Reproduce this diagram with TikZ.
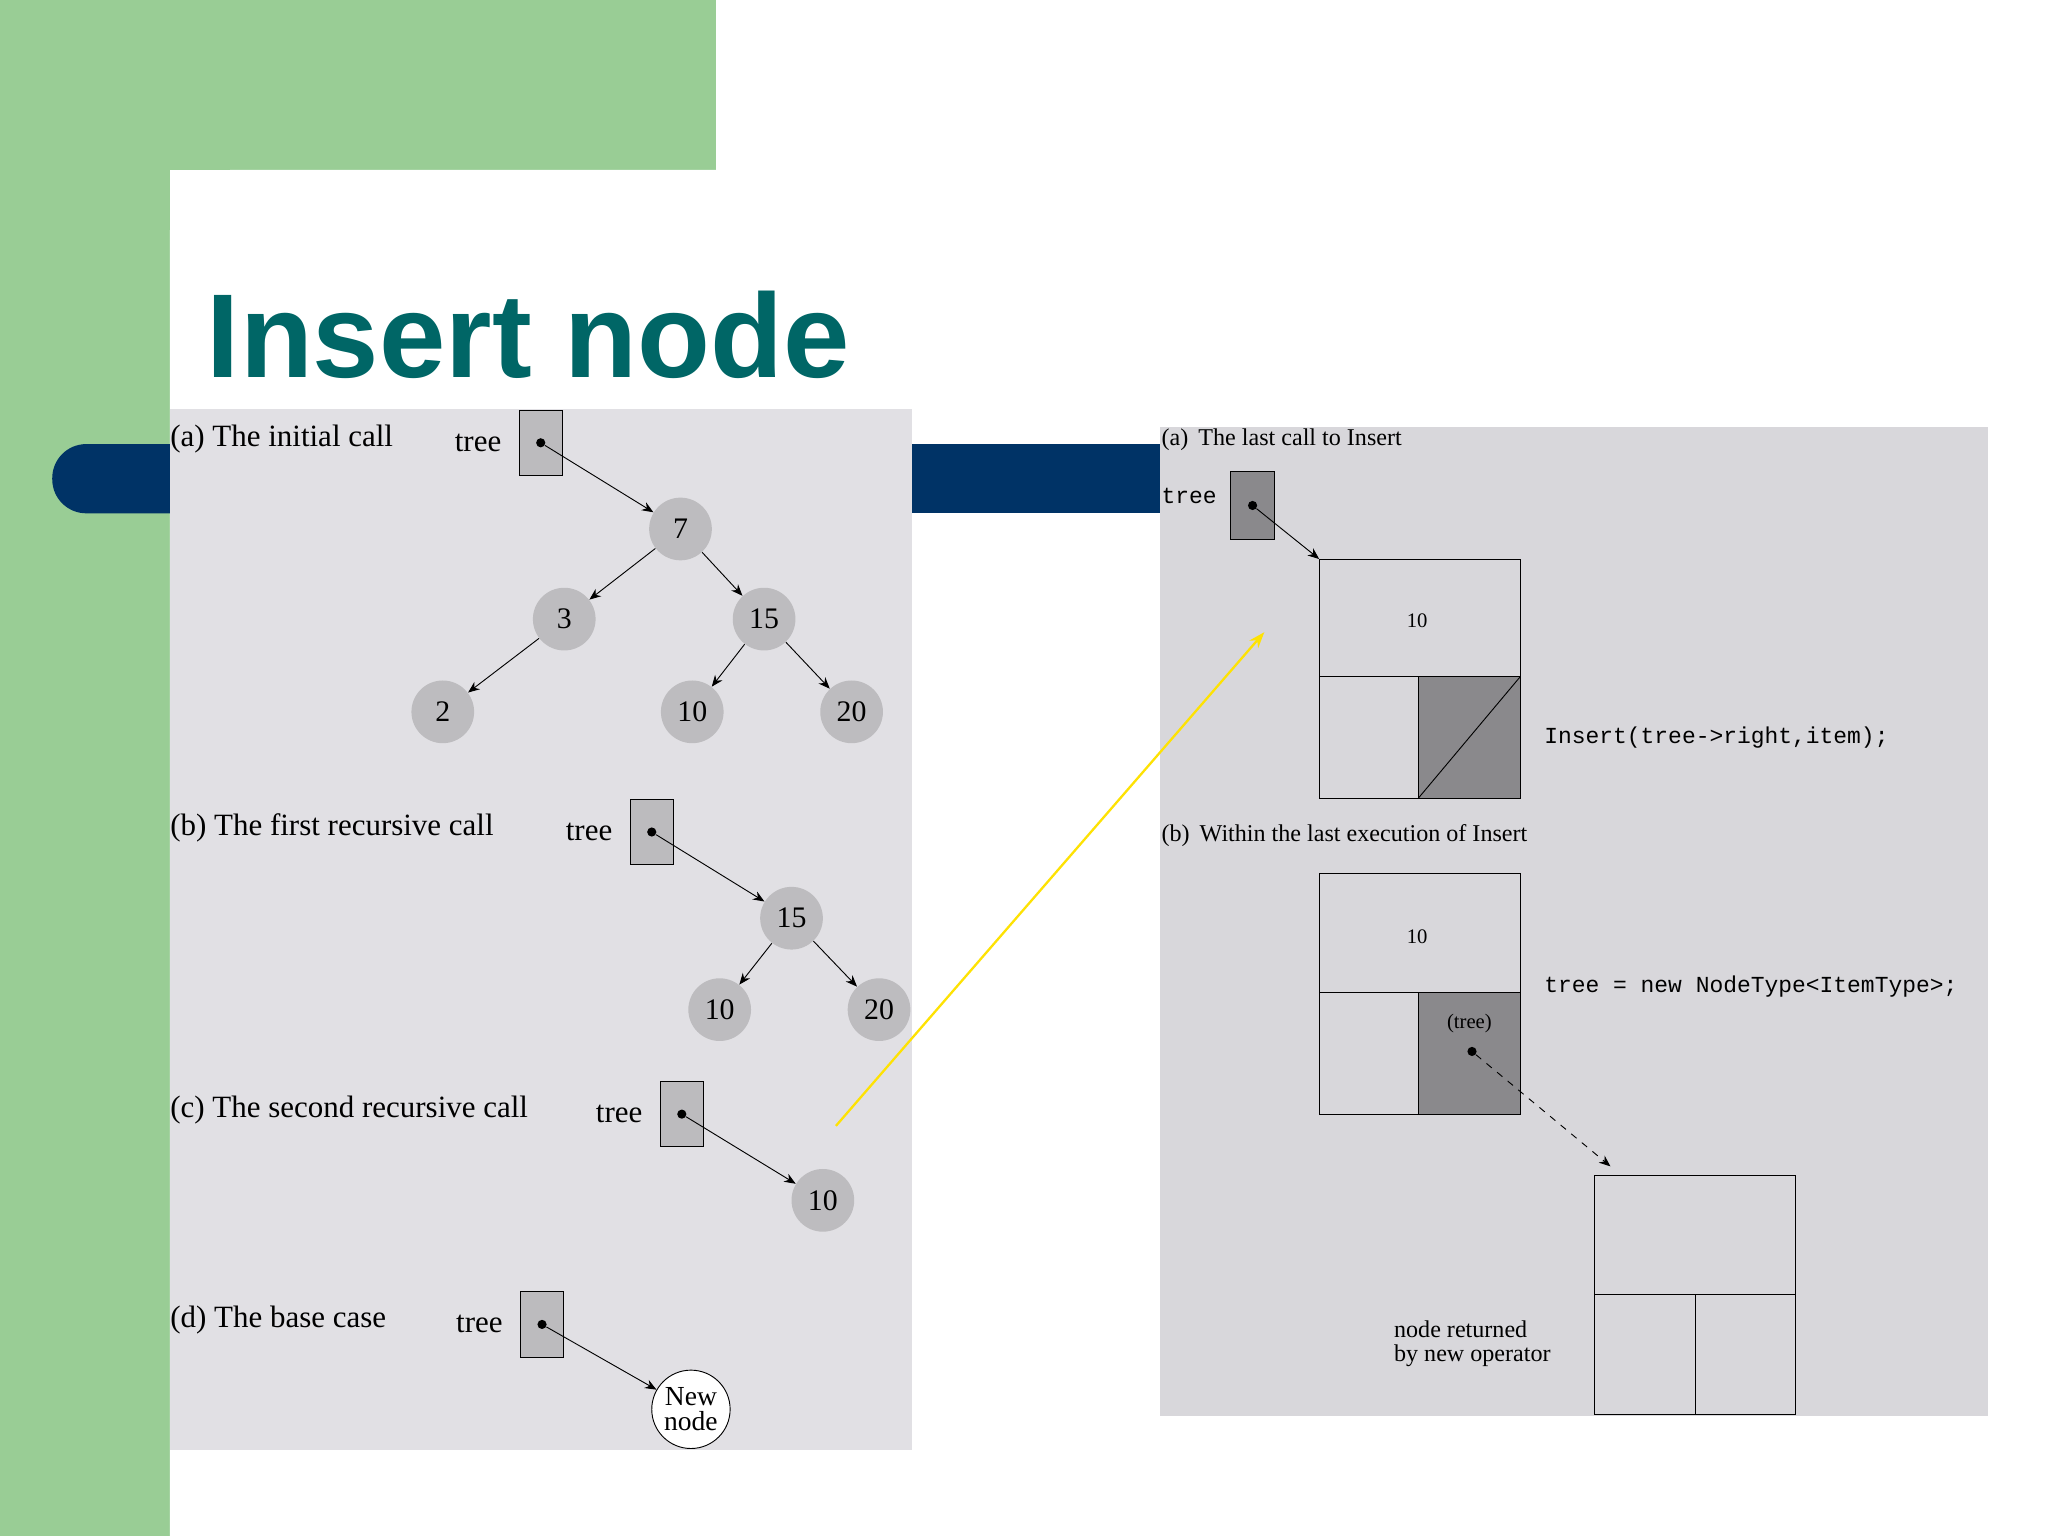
\documentclass[tikz,border=0pt]{standalone}
\usepackage{fontspec}
\setmainfont{Liberation Serif}
\setsansfont{Liberation Sans}
\setmonofont{Liberation Mono}
\usetikzlibrary{arrows.meta}
\definecolor{bggreen}{HTML}{99CD95}
\definecolor{navy}{HTML}{003366}
\definecolor{teal}{HTML}{006666}
\definecolor{panelL}{HTML}{E1E0E4}
\definecolor{panelR}{HTML}{D8D7DB}
\definecolor{circ}{HTML}{BDBCBF}
\definecolor{ptr}{HTML}{BCBBBE}
\definecolor{dark}{HTML}{8A898C}
\begin{document}
\begin{tikzpicture}[x=0.02cm,y=-0.02cm,
  tn/.style={circle,fill=circ,minimum size=48*0.02cm,inner sep=0pt,font=\fontsize{13}{13}\selectfont},
  pbox/.style={draw,fill=ptr,minimum width=33*0.02cm,minimum height=50*0.02cm,inner sep=0pt},
  dot/.style={circle,fill=black,inner sep=0pt,minimum size=4pt},
  lab/.style={anchor=west,inner sep=0pt,font=\fontsize{13.5}{13.5}\selectfont},
  rlab/.style={anchor=west,inner sep=0pt,font=\fontsize{10.5}{10.5}\selectfont},
  code/.style={anchor=west,inner sep=0pt,font=\ttfamily\fontsize{10}{10}\selectfont},
  arr/.style={-{Stealth[length=5pt,width=4pt]},thin}]
\useasboundingbox (0,0) rectangle (1568,1176);
\fill[white] (0,0) rectangle (1568,1176);
\fill[bggreen] (0,0) rectangle (548,130);
\fill[bggreen] (0,0) rectangle (130,1176);
\fill[white] (130,1176) -- (130,180) arc[start angle=180,end angle=90,radius=50*0.02cm] -- (548,130) -- (548,1176) -- cycle;
\fill[navy,rounded corners=26*0.02cm] (40,340) rectangle (200,393);
\fill[navy] (120,340) rectangle (888,393);
\node[anchor=base west,inner sep=0pt,text=teal,font=\sffamily\bfseries\fontsize{52}{52}\selectfont] (title) at (158,289) {Insert node};
% left panel
\fill[panelL] (130,313) rectangle (698,1110);
% (a)
\node[lab] (la) at (130,336) {(a) The initial call};
\node[lab,anchor=center] (ta) at (366,339) {tree};
\node[pbox] (pa) at (414,339) {};
\node[dot] (da) at (414,339) {};
\node[tn] (n7) at (521,405) {7};
\node[tn] (n3) at (432,474) {3};
\node[tn] (n15) at (585,474) {15};
\node[tn] (n2) at (339,545) {2};
\node[tn] (n10) at (530,545) {10};
\node[tn] (n20) at (652,545) {20};
\draw[arr] (da) -- (n7);
\draw[arr] (n7) -- (n3); \draw[arr] (n7) -- (n15);
\draw[arr] (n3) -- (n2); \draw[arr] (n15) -- (n10); \draw[arr] (n15) -- (n20);
% (b)
\node[lab] (lb) at (130,634) {(b) The first recursive call};
\node[lab,anchor=center] (tb) at (451,637) {tree};
\node[pbox] (pb) at (499,637) {};
\node[dot] (db) at (499,637) {};
\node[tn] (b15) at (606,703) {15};
\node[tn] (b10) at (551,773) {10};
\node[tn] (b20) at (673,773) {20};
\draw[arr] (db) -- (b15); \draw[arr] (b15) -- (b10); \draw[arr] (b15) -- (b20);
% (c)
\node[lab] (lc) at (130,850) {(c) The second recursive call};
\node[lab,anchor=center] (tc) at (474,853) {tree};
\node[pbox] (pc) at (522,853) {};
\node[dot] (dc) at (522,853) {};
\node[tn] (c10) at (630,919) {10};
\draw[arr] (dc) -- (c10);
% (d)
\node[lab] (ld) at (130,1011) {(d) The base case};
\node[lab,anchor=center] (td) at (367,1014) {tree};
\node[pbox] (pd) at (415,1014) {};
\node[dot] (dd) at (415,1014) {};
\node[circle,draw,fill=white,minimum size=60*0.02cm,inner sep=0pt,align=center,font=\fontsize{12}{11}\selectfont] (nn) at (529,1079) {New\\node};
\draw[arr] (dd) -- (nn);
% right panel
\fill[panelR] (888,327) rectangle (1522,1084);
\node[rlab] (ra) at (889,337) {(a)\, The last call to Insert};
\node[code] (rt) at (889,380) {tree};
\node[draw,fill=dark,minimum width=34*0.02cm,minimum height=52*0.02cm,inner sep=0pt] (rp) at (959,387) {};
\node[dot] (rd) at (959,387) {};
\coordinate (b1) at (1010,428);
\draw[arr] (rd) -- (b1);
\fill[dark] (1086,518) rectangle (1164,611);
\draw (1010,428) rectangle (1164,611);
\draw (1010,518) -- (1164,518);
\draw (1086,518) -- (1086,611);
\draw (1086,611) -- (1164,518);
\node[font=\fontsize{9}{9}\selectfont] (v1) at (1085,475) {10};
\node[code] (c1) at (1182,565) {Insert(tree->right,item);};
\node[rlab] (rb) at (889,640) {(b)\, Within the last execution of Insert};
\fill[dark] (1086,760) rectangle (1164,853);
\draw (1010,669) rectangle (1164,853);
\draw (1010,760) -- (1164,760);
\draw (1086,760) -- (1086,853);
\node[font=\fontsize{9}{9}\selectfont] (v2) at (1085,717) {10};
\node[font=\fontsize{9}{9}\selectfont] (tr) at (1125,784) {(tree)};
\node[dot] (d2) at (1127,805) {};
\node[code] (c2) at (1182,755) {tree = new NodeType<ItemType>;};
\coordinate (b3) at (1233,893);
\draw[arr,dashed] (d2) -- (b3);
\draw (1221,900) rectangle (1375,1083);
\draw (1221,991) -- (1375,991);
\draw (1298,991) -- (1298,1083);
\node[rlab,align=left,anchor=north west] (nr) at (1067,1011) {node returned\\by new operator};
% yellow arrow
\coordinate (y1) at (640,862);
\coordinate (y2) at (968,484);
\draw[-{Stealth[length=7pt,width=5pt]},draw=yellow!85!orange,fill=yellow!85!orange,line width=1pt] (y1) -- (y2);
\end{tikzpicture}
\end{document}
